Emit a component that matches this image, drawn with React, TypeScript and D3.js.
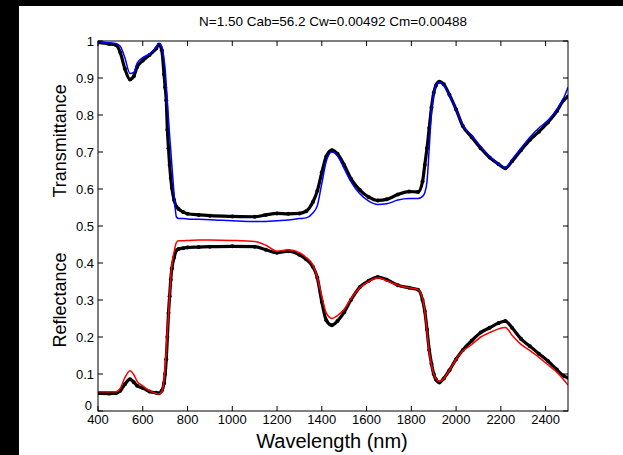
import React from "react";
import * as d3 from "d3";

// wavelength grid (nm) shared by the four spectra
const wavelengths = [400, 450, 480, 500, 520, 543, 560, 575, 600, 630, 660, 672, 685, 695, 700, 705, 710, 715, 720, 725, 730, 740, 750, 760, 780, 800, 850, 900, 1000, 1100, 1150, 1200, 1250, 1300, 1330, 1360, 1380, 1400, 1420, 1445, 1470, 1500, 1530, 1570, 1610, 1650, 1690, 1740, 1790, 1830, 1850, 1860, 1870, 1880, 1890, 1900, 1910, 1925, 1945, 1970, 2000, 2030, 2070, 2110, 2150, 2190, 2220, 2250, 2290, 2330, 2370, 2410, 2450, 2480, 2500];

const transMeasured = [0.996, 0.992, 0.989, 0.968, 0.925, 0.896, 0.905, 0.93, 0.947, 0.962, 0.98, 0.99, 0.975, 0.91, 0.875, 0.84, 0.76, 0.71, 0.665, 0.63, 0.603, 0.57, 0.553, 0.546, 0.538, 0.533, 0.53, 0.528, 0.526, 0.525, 0.53, 0.534, 0.533, 0.534, 0.54, 0.565, 0.595, 0.645, 0.688, 0.705, 0.695, 0.665, 0.628, 0.597, 0.578, 0.569, 0.572, 0.585, 0.593, 0.592, 0.62, 0.665, 0.71, 0.765, 0.82, 0.86, 0.88, 0.89, 0.883, 0.855, 0.815, 0.77, 0.74, 0.71, 0.685, 0.667, 0.656, 0.675, 0.705, 0.733, 0.755, 0.78, 0.81, 0.84, 0.85];

const transModel = [0.997, 0.995, 0.993, 0.985, 0.955, 0.912, 0.915, 0.94, 0.955, 0.965, 0.982, 0.994, 0.985, 0.95, 0.925, 0.88, 0.835, 0.79, 0.745, 0.705, 0.665, 0.585, 0.525, 0.52, 0.52, 0.519, 0.518, 0.517, 0.514, 0.512, 0.512, 0.514, 0.516, 0.52, 0.522, 0.535, 0.555, 0.615, 0.675, 0.7, 0.69, 0.655, 0.62, 0.587, 0.567, 0.558, 0.56, 0.57, 0.574, 0.574, 0.58, 0.59, 0.62, 0.71, 0.81, 0.86, 0.88, 0.888, 0.88, 0.855, 0.815, 0.772, 0.745, 0.715, 0.688, 0.668, 0.656, 0.68, 0.71, 0.74, 0.765, 0.785, 0.815, 0.845, 0.875];

const reflMeasured = [0.048, 0.047, 0.048, 0.055, 0.072, 0.086, 0.078, 0.068, 0.062, 0.053, 0.049, 0.048, 0.055, 0.075, 0.1, 0.14, 0.2, 0.265, 0.31, 0.355, 0.385, 0.415, 0.434, 0.438, 0.44, 0.442, 0.443, 0.444, 0.445, 0.444, 0.436, 0.428, 0.432, 0.422, 0.41, 0.39, 0.36, 0.295, 0.245, 0.232, 0.243, 0.267, 0.3, 0.335, 0.352, 0.362, 0.355, 0.34, 0.333, 0.328, 0.3, 0.27, 0.22, 0.165, 0.128, 0.1, 0.085, 0.077, 0.088, 0.11, 0.14, 0.165, 0.19, 0.212, 0.225, 0.238, 0.243, 0.225, 0.195, 0.175, 0.155, 0.135, 0.112, 0.095, 0.09];

const reflModel = [0.052, 0.052, 0.052, 0.062, 0.09, 0.109, 0.098, 0.08, 0.068, 0.055, 0.047, 0.046, 0.052, 0.085, 0.12, 0.165, 0.215, 0.26, 0.31, 0.36, 0.395, 0.43, 0.455, 0.46, 0.46, 0.461, 0.462, 0.462, 0.461, 0.458, 0.448, 0.432, 0.436, 0.428, 0.415, 0.395, 0.36, 0.31, 0.265, 0.25, 0.258, 0.275, 0.303, 0.333, 0.35, 0.36, 0.352, 0.34, 0.333, 0.328, 0.305, 0.27, 0.215, 0.16, 0.125, 0.1, 0.087, 0.08, 0.088, 0.11, 0.14, 0.162, 0.18, 0.2, 0.212, 0.222, 0.226, 0.205, 0.18, 0.163, 0.145, 0.125, 0.105, 0.085, 0.07];

const xTicks = [400, 600, 800, 1000, 1200, 1400, 1600, 1800, 2000, 2200, 2400];
const yTicks = [0, 0.1, 0.2, 0.3, 0.4, 0.5, 0.6, 0.7, 0.8, 0.9, 1];

const title = "N=1.50 Cab=56.2 Cw=0.00492 Cm=0.00488";

const W = 623, H = 455;
const left = 98, right = 568, top = 41, bottom = 411;
const font = "'Liberation Sans', Arial, sans-serif";

export default function App() {
  const x = d3.scaleLinear().domain([400, 2500]).range([left, right]);
  const y = d3.scaleLinear().domain([0, 1]).range([bottom, top]);

  const line = (vals: number[]) =>
    d3
      .line<number>()
      .x((d, i) => x(wavelengths[i]))
      .y(d => y(d))
      .curve(d3.curveMonotoneX)(vals) || "";

  const dots = (vals: number[]) =>
    vals.map((v, i) => (
      <circle key={i} cx={x(wavelengths[i])} cy={y(v)} r={2} fill="#000" />
    ));

  return (
    <svg width={W} height={H} style={{ position: "absolute", left: 0, top: 0 }}>
      <rect width={W} height={H} fill="#000" />
      <rect x={19} y={6} width={W - 19} height={H - 6} fill="#fff" />

      <text x={(left + right) / 2} y={26} textAnchor="middle" fontFamily={font} fontSize={13.5} fill="#000">
        {title}
      </text>

      <defs>
        <clipPath id="plot">
          <rect x={left} y={top - 3} width={right - left} height={bottom - top + 6} />
        </clipPath>
      </defs>

      <g clipPath="url(#plot)">
        <path d={line(transMeasured)} fill="none" stroke="#000" strokeWidth={3.2} />
        {dots(transMeasured)}
        <path d={line(reflMeasured)} fill="none" stroke="#000" strokeWidth={3.2} />
        {dots(reflMeasured)}
        <path d={line(transModel)} fill="none" stroke="#0000ff" strokeWidth={1.5} />
        <path d={line(reflModel)} fill="none" stroke="#ff0000" strokeWidth={1.5} />
      </g>

      {/* axes box with inward ticks */}
      <rect x={left} y={top} width={right - left} height={bottom - top} fill="none" stroke="#000" strokeWidth={1} />
      {xTicks.map(t => (
        <g key={t}>
          <line x1={x(t)} x2={x(t)} y1={bottom} y2={bottom - 5} stroke="#000" />
          <line x1={x(t)} x2={x(t)} y1={top} y2={top + 5} stroke="#000" />
          <text x={x(t)} y={bottom + 13} textAnchor="middle" fontFamily={font} fontSize={13} fill="#000">
            {t}
          </text>
        </g>
      ))}
      {yTicks.map(t => (
        <g key={t}>
          <line x1={left} x2={left + 5} y1={y(t)} y2={y(t)} stroke="#000" />
          <line x1={right} x2={right - 5} y1={y(t)} y2={y(t)} stroke="#000" />
          <text x={left - (t === 0 ? 6 : 4)} y={y(t) + (t === 0 ? -1 : 4.5)} textAnchor="end" fontFamily={font} fontSize={13} fill="#000">
            {t === 0 || t === 1 ? t : t.toFixed(1)}
          </text>
        </g>
      ))}

      <text x={left + 234} y={H - 7} textAnchor="middle" fontFamily={font} fontSize={20} fill="#000">
        Wavelength (nm)
      </text>
      <text transform={`translate(66, ${y(0.73)}) rotate(-90)`} textAnchor="middle" fontFamily={font} fontSize={18} fill="#000">
        Transmittance
      </text>
      <text transform={`translate(66, ${y(0.3)}) rotate(-90)`} textAnchor="middle" fontFamily={font} fontSize={18} fill="#000">
        Reflectance
      </text>
    </svg>
  );
}
